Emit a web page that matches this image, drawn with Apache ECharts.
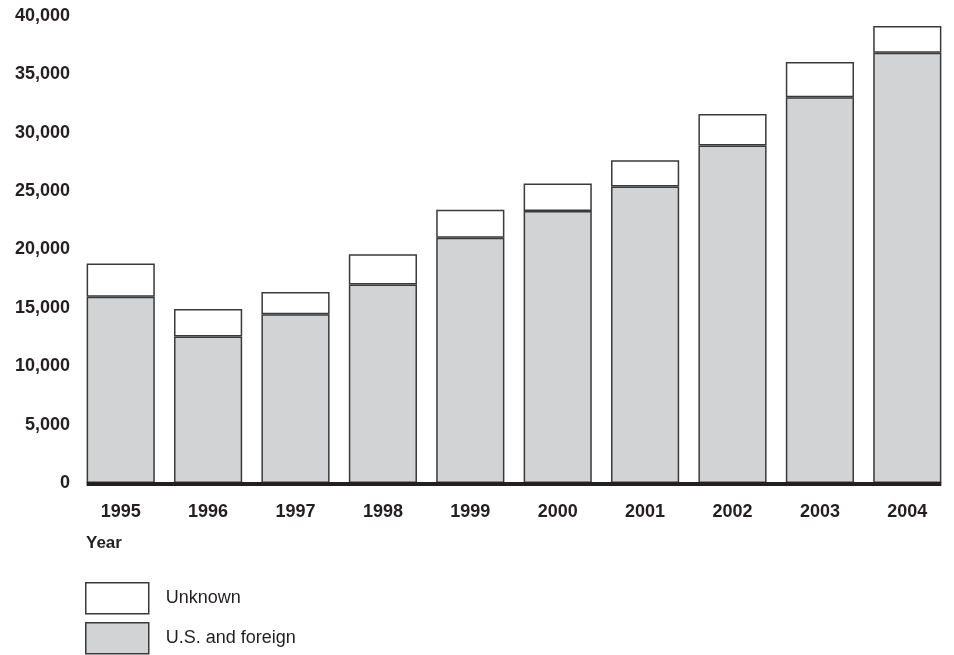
<!DOCTYPE html>
<html>
<head>
<meta charset="utf-8">
<title>Cases by year</title>
<script src="https://cdn.jsdelivr.net/npm/echarts@6/dist/echarts.min.js"></script>
<style>
  html, body { margin: 0; padding: 0; background: #ffffff; }
  #chart { width: 954px; height: 655px; }
</style>
</head>
<body>
<div id="chart"></div>
<script>
// Yearly counts, split by origin
const years = ['1995', '1996', '1997', '1998', '1999', '2000', '2001', '2002', '2003', '2004'];
const usAndForeign = [15950, 12550, 14450, 17000, 21000, 23300, 25400, 28900, 33050, 36850];
const unknown = [2850, 2350, 1900, 2600, 2400, 2350, 2250, 2700, 3000, 2300];
const yTicks = [0, 5000, 10000, 15000, 20000, 25000, 30000, 35000, 40000];
const legendNames = ['Unknown', 'U.S. and foreign'];

const FONT = '"Liberation Sans", Arial, Helvetica, sans-serif';
const INK = '#231f20';
const EDGE = '#3a3a3a';
const BAR_RATIO = 0.78;

const chart = echarts.init(document.getElementById('chart'), null, { renderer: 'canvas' });

// one key row per series, stacked top to bottom
const legendRows = legendNames.map((name, i) => ({
  left: 85,
  top: 582 + i * 40,
  padding: 0,
  itemWidth: 63,
  itemHeight: 31,
  icon: 'rect',
  selectedMode: false,
  data: [name],
  itemStyle: { borderColor: EDGE, borderWidth: 1.5 },
  textStyle: { fontFamily: FONT, fontSize: 18, color: INK, padding: [0, 0, 0, 12] }
}));

chart.setOption({
  animation: false,
  backgroundColor: '#ffffff',
  grid: { left: 77, right: 3, top: 16, bottom: 172, containLabel: false },
  title: {
    text: 'Year',
    left: 86,
    top: 535,
    padding: 0,
    textStyle: { fontFamily: FONT, fontSize: 17, fontWeight: 'bold', color: INK }
  },
  legend: legendRows,
  xAxis: {
    type: 'category',
    data: years,
    axisLine: { show: false },
    axisTick: { show: false },
    axisLabel: { margin: 20, fontFamily: FONT, fontSize: 18, fontWeight: 'bold', color: INK }
  },
  yAxis: {
    type: 'value',
    min: yTicks[0],
    max: yTicks[yTicks.length - 1],
    interval: yTicks[1] - yTicks[0],
    splitLine: { show: false },
    axisLine: { show: false },
    axisTick: { show: false },
    axisLabel: {
      margin: 7,
      fontFamily: FONT,
      fontSize: 18,
      fontWeight: 'bold',
      color: INK,
      formatter: v => v.toLocaleString('en-US')
    }
  },
  series: [
    {
      name: 'U.S. and foreign',
      type: 'bar',
      stack: 'total',
      barWidth: (BAR_RATIO * 100) + '%',
      data: usAndForeign,
      itemStyle: { color: '#d1d3d4', borderColor: EDGE, borderWidth: 1.5 }
    },
    {
      name: 'Unknown',
      type: 'bar',
      stack: 'total',
      barWidth: (BAR_RATIO * 100) + '%',
      data: unknown,
      itemStyle: { color: '#ffffff', borderColor: EDGE, borderWidth: 1.5 }
    },
    {
      // heavy baseline running under the bars, from the first bar's left edge to the last bar's right edge
      name: 'baseline',
      type: 'custom',
      silent: true,
      z: 5,
      data: [[0, 0]],
      renderItem: function (params, api) {
        const first = api.coord([0, 0]);
        const last = api.coord([years.length - 1, 0]);
        const half = api.size([1, 0])[0] * BAR_RATIO / 2;
        return {
          type: 'line',
          shape: { x1: first[0] - half, y1: first[1] + 1, x2: last[0] + half, y2: last[1] + 1 },
          style: { stroke: INK, lineWidth: 4 }
        };
      }
    }
  ]
});
</script>
</body>
</html>
